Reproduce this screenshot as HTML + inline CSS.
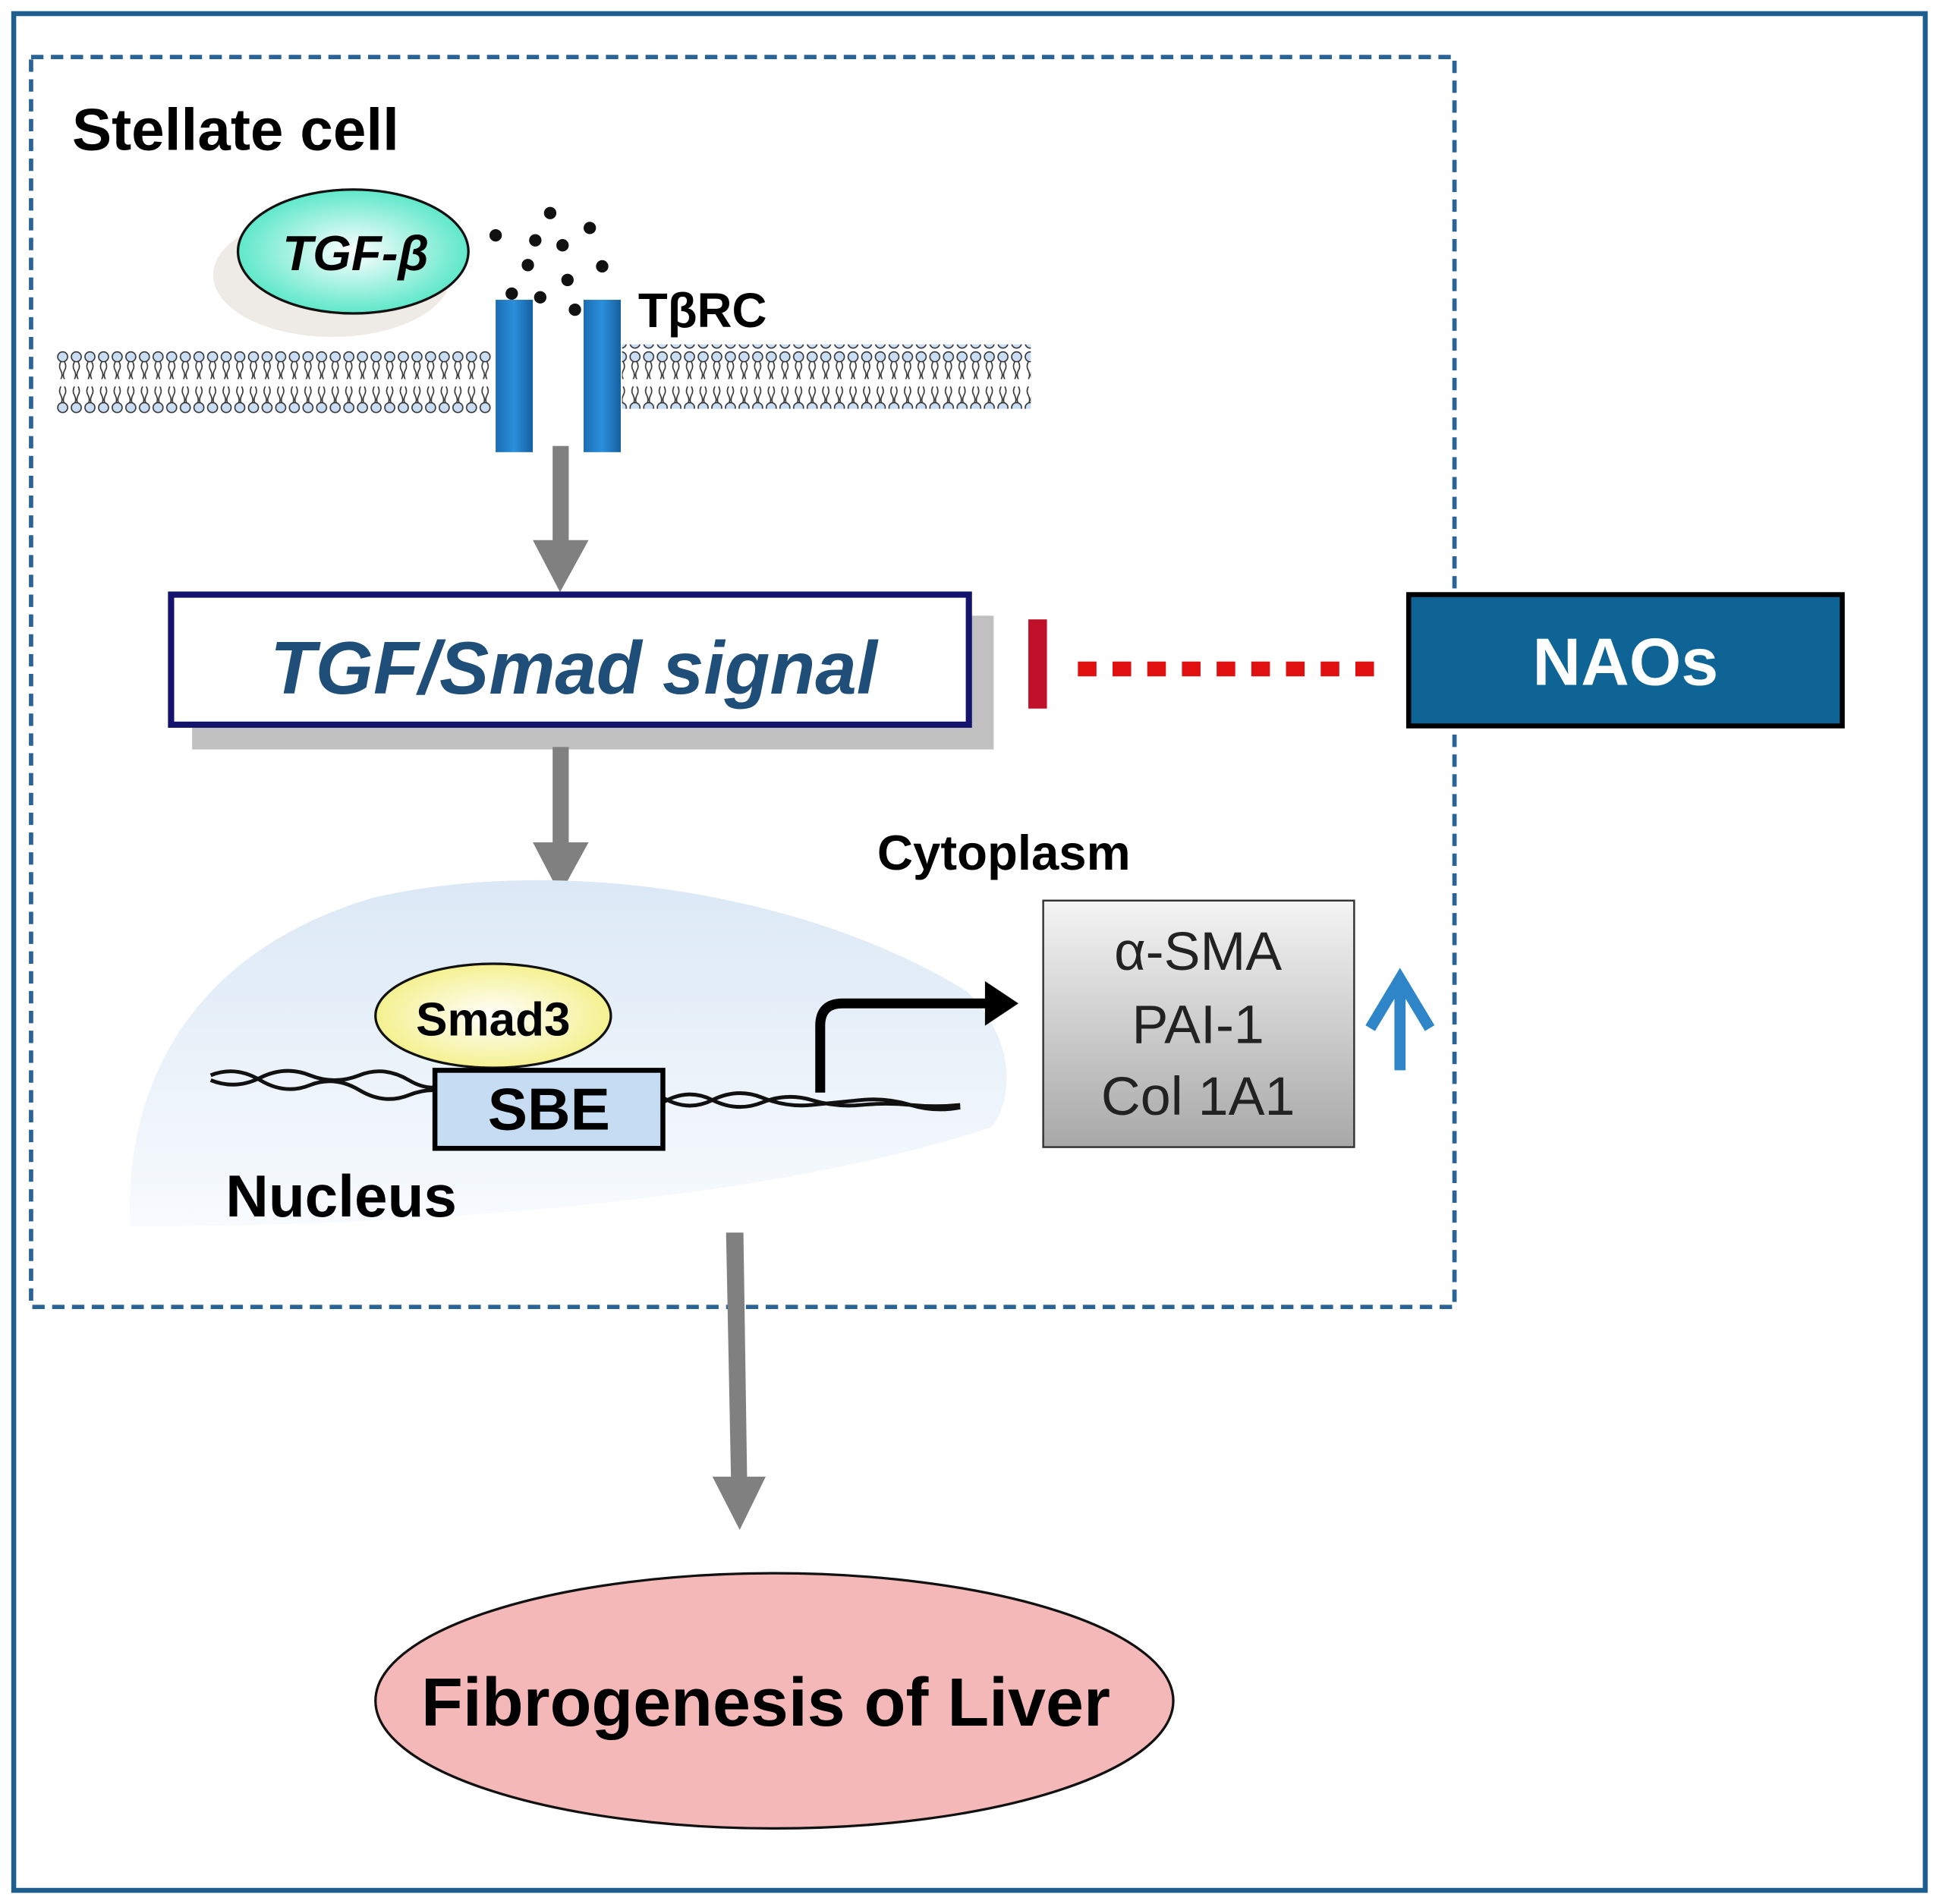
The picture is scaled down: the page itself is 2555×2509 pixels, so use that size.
<!DOCTYPE html>
<html><head><meta charset="utf-8"><style>html,body{margin:0;padding:0;background:#fff}svg{display:block}</style></head>
<body>
<svg width="2555" height="2509" viewBox="0 0 1565 1537" xmlns="http://www.w3.org/2000/svg" font-family="Liberation Sans, Arial, sans-serif">
<defs>
<radialGradient id="tg" cx="50%" cy="50%" r="60%"><stop offset="0" stop-color="#ffffff"/><stop offset="1" stop-color="#3fe3bf"/></radialGradient>
<radialGradient id="yg" cx="50%" cy="50%" r="60%"><stop offset="0" stop-color="#ffffff"/><stop offset="1" stop-color="#f2ee7a"/></radialGradient>
<linearGradient id="rg" x1="0" x2="1"><stop offset="0" stop-color="#1a6db3"/><stop offset="0.5" stop-color="#2b8fdc"/><stop offset="1" stop-color="#155f9e"/></linearGradient>
<linearGradient id="bg" x1="0" y1="0" x2="0" y2="1"><stop offset="0" stop-color="#f4f4f4"/><stop offset="1" stop-color="#a8a8a8"/></linearGradient>
<linearGradient id="ng" x1="0" y1="0" x2="0" y2="1"><stop offset="0" stop-color="#dbe8f5"/><stop offset="1" stop-color="#f8fbfe"/></linearGradient>
<pattern id="mem" x="45" y="283" width="11" height="52" patternUnits="userSpaceOnUse">
<circle cx="5.5" cy="5" r="4" fill="#c9ddf5" stroke="#333" stroke-width="1"/>
<path d="M4 9 q-2 4 0 7 q2 4 0 7 M7 9 q2 4 0 7 q-2 4 0 7" stroke="#333" fill="none" stroke-width="1"/>
<path d="M4 29 q-2 4 0 7 q2 4 0 7 M7 29 q2 4 0 7 q-2 4 0 7" stroke="#333" fill="none" stroke-width="1"/>
<circle cx="5.5" cy="46" r="4" fill="#c9ddf5" stroke="#333" stroke-width="1"/>
</pattern>
</defs>
<rect x="11" y="11" width="1543" height="1515" fill="none" stroke="#1f5f8f" stroke-width="4"/>
<rect x="25" y="46" width="1149" height="1009" fill="none" stroke="#2a6496" stroke-width="3.5" stroke-dasharray="10,6"/>
<text x="58" y="121" font-size="48" font-weight="bold">Stellate cell</text>
<ellipse cx="268" cy="222" rx="96" ry="50" fill="#eeeae6"/>
<ellipse cx="285" cy="203" rx="93" ry="50" fill="url(#tg)" stroke="#111" stroke-width="2"/>
<text x="287" y="218" font-size="40" font-weight="bold" font-style="italic" text-anchor="middle">TGF-β</text>
<g fill="#111"><circle cx="444" cy="172" r="5"/><circle cx="400" cy="190" r="5"/><circle cx="432" cy="194" r="5"/><circle cx="476" cy="184" r="5"/><circle cx="454" cy="198" r="5"/><circle cx="426" cy="214" r="5"/><circle cx="486" cy="215" r="5"/><circle cx="458" cy="226" r="5"/><circle cx="413" cy="237" r="5"/><circle cx="436" cy="240" r="5"/><circle cx="464" cy="250" r="5"/></g>
<rect x="45" y="283" width="352" height="52" fill="url(#mem)"/>
<rect x="502" y="278" width="330" height="52" fill="url(#mem)"/>
<rect x="400" y="242" width="30" height="123" fill="url(#rg)"/>
<rect x="471" y="242" width="30" height="123" fill="url(#rg)"/>
<text x="515" y="264" font-size="39" font-weight="bold">TβRC</text>
<rect x="446" y="360" width="13" height="80" fill="#808080"/><polygon points="430,436 475,436 452,478" fill="#808080"/>
<rect x="155" y="497" width="647" height="108" fill="#c0c0c0"/>
<rect x="138" y="480" width="644" height="105" fill="#fff" stroke="#14146e" stroke-width="5"/>
<text x="463" y="560" font-size="60" font-weight="bold" font-style="italic" fill="#1f4e79" text-anchor="middle">TGF/Smad signal</text>
<rect x="830" y="500" width="15" height="72" fill="#c0102a"/>
<line x1="870" y1="540" x2="1122" y2="540" stroke="#e01010" stroke-width="12" stroke-dasharray="15,13"/>
<rect x="1137" y="480" width="350" height="106" fill="#0f6496" stroke="#000" stroke-width="4"/>
<text x="1312" y="553" font-size="54" font-weight="bold" fill="#fff" text-anchor="middle">NAOs</text>
<rect x="446" y="603" width="13" height="80" fill="#808080"/><polygon points="430,680 475,680 452,722" fill="#808080"/>
<text x="708" y="702" font-size="40" font-weight="bold">Cytoplasm</text>
<path d="M105 990 C100 880 150 770 300 725 C450 690 650 720 780 800 C830 850 810 900 800 910 C650 960 400 990 105 990 Z" fill="url(#ng)"/>
<path d="M170 868 q20 -8 40 4 t40 4 t40 4 t40 4 t40 0 M170 872 q20 8 40 -2 t40 -2 t40 0 t40 4 t40 0" stroke="#111" stroke-width="3" fill="none"/>
<path d="M535 890 q20 -12 40 -2 t40 2 t40 -2 t40 4 t40 0 t40 0 M535 886 q20 12 40 2 t40 -2 t40 6 t40 -4 t40 4 t40 2" stroke="#111" stroke-width="3" fill="none"/>
<ellipse cx="398" cy="820" rx="95" ry="42" fill="url(#yg)" stroke="#111" stroke-width="2"/>
<text x="398" y="836" font-size="38" font-weight="bold" text-anchor="middle">Smad3</text>
<rect x="351" y="864" width="184" height="63" fill="#c5dcf2" stroke="#000" stroke-width="4"/>
<text x="443" y="912" font-size="48" font-weight="bold" text-anchor="middle">SBE</text>
<path d="M662 882 V828 Q662 810 680 810 H800" stroke="#000" stroke-width="8" fill="none"/>
<polygon points="795,792 822,810 795,828" fill="#000"/>
<text x="182" y="982" font-size="48" font-weight="bold">Nucleus</text>
<rect x="842" y="727" width="251" height="199" fill="url(#bg)" stroke="#333" stroke-width="1.5"/>
<g font-size="44" fill="#222" text-anchor="middle"><text x="967" y="783">α-SMA</text><text x="967" y="842">PAI-1</text><text x="967" y="900">Col 1A1</text></g>
<path d="M1130 864 V790 M1106 830 L1130 790 L1154 830" stroke="#2e86c8" stroke-width="9" fill="none"/>
<polygon points="586,995 600,995 603,1195 590,1195" fill="#808080"/><polygon points="575,1192 618,1192 597,1235" fill="#808080"/>
<ellipse cx="625" cy="1373" rx="322" ry="103" fill="#f4b8b8" stroke="#111" stroke-width="2"/>
<text x="618" y="1393" font-size="55" font-weight="bold" text-anchor="middle">Fibrogenesis of Liver</text>
</svg>
</body></html>
